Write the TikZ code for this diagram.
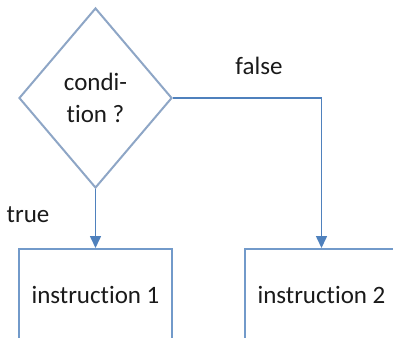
\documentclass[tikz,border=0pt]{standalone}
\usepackage{fontspec}
\setmainfont[Ligatures=NoCommon]{Carlito}
\usetikzlibrary{shapes.geometric,arrows.meta}
\definecolor{shapeline}{HTML}{8EA6C6}
\definecolor{arrowline}{HTML}{4F81BD}
\definecolor{txt}{HTML}{1A1A1A}
\begin{document}
\begin{tikzpicture}[x=1pt,y=-1pt,
  every node/.style={font=\fontsize{25}{30}\selectfont, text=txt},
  decision/.style={diamond, draw=shapeline, line width=2pt, minimum width=153pt, minimum height=180pt, inner sep=0pt, align=center},
  stepbox/.style={rectangle, draw=arrowline!80!white, line width=2pt, minimum width=153pt, minimum height=92pt, inner sep=0pt},
  flow/.style={draw=arrowline, line width=1.6pt, -{Triangle[width=11pt,length=12pt]}},
  lbl/.style={inner sep=0pt}]
\useasboundingbox (0,0) rectangle (393,337);
\clip (0,0) rectangle (393,337);
\node[decision] (cond) at (95.5,98) {condi-\\[2pt]tion ?};
\node[stepbox] (i1) at (95.5,295) {instruction 1};
\node[stepbox] (i2) at (321.5,295) {instruction 2};
\coordinate (corner) at (i2.north |- cond.east);
\draw[flow] (cond.south) -- (i1.north);
\draw[flow] (cond.east) -- (corner) -- (i2.north);
\node[lbl] (ltrue) at (28,215) {true};
\node[lbl] (lfalse) at (259,66) {false};
\end{tikzpicture}
\end{document}
